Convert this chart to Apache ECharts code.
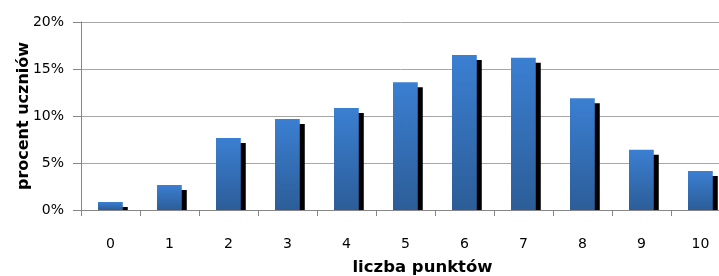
<!DOCTYPE html>
<html>
<head>
<meta charset="utf-8">
<script src="https://cdn.jsdelivr.net/npm/echarts@6/dist/echarts.min.js"></script>
<style>
html, body { margin: 0; padding: 0; background: #fff; }
#chart { width: 719px; height: 276px; }
</style>
</head>
<body>
<div id="chart"></div>
<script>
// liczba punktów (kategorie) i procent uczniów
var categories = ['0', '1', '2', '3', '4', '5', '6', '7', '8', '9', '10'];
var percents = [0.85, 2.66, 7.66, 9.68, 10.85, 13.6, 16.5, 16.2, 11.9, 6.4, 4.15];
var yTicks = [0, 5, 10, 15, 20];

var dom = document.getElementById('chart');
var myChart = echarts.init(dom);

var barFill = new echarts.graphic.LinearGradient(0, 0, 0, 1, [
    { offset: 0, color: '#3b7fd2' },
    { offset: 1, color: '#2c5d98' }
]);

// słupek + czarny cień przesunięty o 5px w prawo i w dół
function renderBar(params, api) {
    var idx = api.value(0);
    var val = api.value(1);
    var top = api.coord([idx, val]);
    var base = api.coord([idx, 0]);
    var w = api.size([1, 0])[0] * 0.42;
    var x = Math.round(top[0] - w / 2);
    var h = base[1] - top[1];
    return {
        type: 'group',
        children: [
            { type: 'rect', shape: { x: x + 5, y: top[1] + 5, width: w, height: Math.max(h - 5, 0) }, style: { fill: '#000' } },
            { type: 'rect', shape: { x: x, y: top[1], width: w, height: h }, style: { fill: barFill } }
        ]
    };
}

var option = {
    animation: false,
    grid: { left: 81, top: 22, width: 649, height: 188, containLabel: false, outerBoundsMode: 'none' },
    xAxis: {
        type: 'category',
        data: categories,
        name: 'liczba punktów',
        nameLocation: 'middle',
        nameMoveOverlap: false,
        nameGap: 49,
        nameTextStyle: { fontFamily: 'DejaVu Sans', fontWeight: 'bold', fontSize: 16.5, color: '#000', padding: [0, 0, 0, 34] },
        axisLine: { lineStyle: { color: '#868686', width: 1 } },
        axisTick: { show: true, length: 6, lineStyle: { color: '#868686' } },
        axisLabel: { fontFamily: 'DejaVu Sans', fontSize: 14, color: '#000', margin: 27 }
    },
    yAxis: {
        type: 'value',
        min: yTicks[0],
        max: yTicks[yTicks.length - 1],
        interval: 5,
        name: 'procent uczniów',
        nameLocation: 'middle',
        nameMoveOverlap: false,
        nameGap: 49,
        nameTextStyle: { fontFamily: 'DejaVu Sans', fontWeight: 'bold', fontSize: 16, color: '#000' },
        axisLine: { show: true, lineStyle: { color: '#868686', width: 1 } },
        axisTick: { show: true, length: 8, lineStyle: { color: '#868686' } },
        splitLine: { show: true, lineStyle: { color: '#a6a6a6', width: 1 } },
        axisLabel: { fontFamily: 'DejaVu Sans', fontSize: 14, color: '#000', margin: 17, formatter: '{value}%' }
    },
    series: [{
        type: 'custom',
        renderItem: renderBar,
        clip: false,
        data: percents.map(function (v, i) { return [i, v]; })
    }]
};

myChart.setOption(option, true);
</script>
</body>
</html>
